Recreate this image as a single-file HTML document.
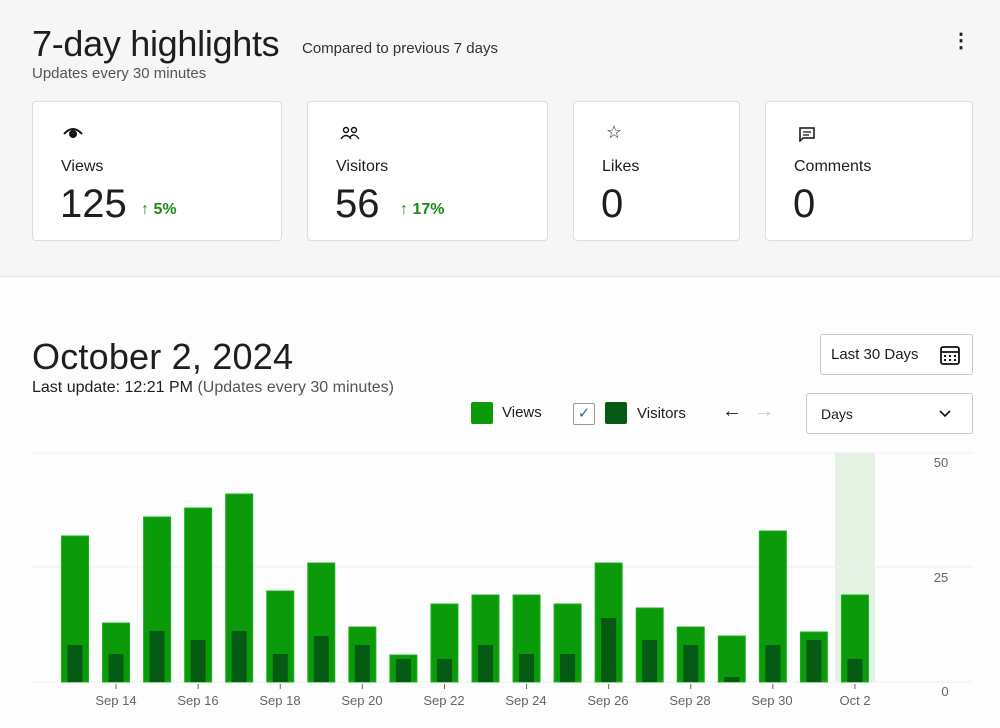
<!DOCTYPE html>
<html><head><meta charset="utf-8"><style>
*{margin:0;padding:0;box-sizing:border-box}
body{width:1000px;height:728px;background:#fdfdfd;font-family:"Liberation Sans",sans-serif;color:#1e1e1e;position:relative;overflow:hidden}
.top{position:absolute;left:0;top:0;width:1000px;height:277px;background:#f6f6f6;border-bottom:1px solid #e4e4e4}
.a{position:absolute;white-space:nowrap}
.card{position:absolute;top:101px;height:140px;background:#fff;border:1px solid #ddd;border-radius:4px}
.lbl{position:absolute;left:28px;top:56px;font-size:16px}
.num{position:absolute;left:27px;top:80px;font-size:40px}
.pct{position:absolute;top:99px;font-size:16px;color:#1a8a1a;font-weight:bold}
.btn{position:absolute;background:#fff;border:1px solid #c8c8c8;border-radius:3px}
</style></head><body>
<div class="top"></div>
<div class="a" style="left:32px;top:23px;font-size:36px;letter-spacing:-0.3px">7-day highlights</div>
<div class="a" style="left:302px;top:40px;font-size:15px;color:#333">Compared to previous 7 days</div>
<div class="a" style="left:32px;top:65px;font-size:15px;color:#555">Updates every 30 minutes</div>
<div class="a" style="left:951px;top:28px;font-size:20px;font-weight:bold">⋮</div>

<div class="card" style="left:32px;width:250px">
<svg class="a" style="left:30px;top:24px" width="20" height="14"><path d="M1 8 Q10 -2 19 8" stroke="#111" stroke-width="2" fill="none"/><circle cx="10" cy="8" r="4" fill="#111"/></svg>
<div class="lbl">Views</div><div class="num">125</div><div class="pct" style="left:108px">↑ 5%</div></div>
<div class="card" style="left:307px;width:241px">
<svg class="a" style="left:32px;top:24px" width="20" height="14"><circle cx="6" cy="4" r="2.5" stroke="#111" fill="none" stroke-width="1.4"/><circle cx="14" cy="4" r="2.5" stroke="#111" fill="none" stroke-width="1.4"/><path d="M1 13 Q6 6 11 13 M10 11 Q14 6 19 13" stroke="#111" fill="none" stroke-width="1.4"/></svg>
<div class="lbl">Visitors</div><div class="num">56</div><div class="pct" style="left:92px">↑ 17%</div></div>
<div class="card" style="left:573px;width:167px">
<div class="a" style="left:32px;top:20px;font-size:18px">☆</div>
<div class="lbl">Likes</div><div class="num">0</div></div>
<div class="card" style="left:765px;width:208px">
<svg class="a" style="left:32px;top:24px" width="18" height="16"><path d="M2 2 H16 V12 H5 L2 15 Z" stroke="#111" fill="none" stroke-width="1.5"/><path d="M5 6 H13 M5 9 H11" stroke="#111" stroke-width="1.3"/></svg>
<div class="lbl">Comments</div><div class="num">0</div></div>

<div class="a" style="left:32px;top:336px;font-size:36px;letter-spacing:0.2px">October 2, 2024</div>
<div class="a" style="left:32px;top:379px;font-size:16px">Last update: 12:21 PM <span style="color:#555">(Updates every 30 minutes)</span></div>
<div class="btn" style="left:820px;top:334px;width:153px;height:41px"><span class="a" style="left:10px;top:11px;font-size:15px">Last 30 Days</span>
<svg class="a" style="left:118px;top:9px" width="22" height="22"><rect x="2" y="3" width="18" height="17" rx="2" stroke="#111" fill="none" stroke-width="1.8"/><path d="M2 8 H20" stroke="#111" stroke-width="1.8"/><g fill="#111"><rect x="5" y="11" width="2" height="2"/><rect x="10" y="11" width="2" height="2"/><rect x="15" y="11" width="2" height="2"/><rect x="5" y="15" width="2" height="2"/><rect x="10" y="15" width="2" height="2"/><rect x="15" y="15" width="2" height="2"/></g></svg></div>
<div class="a" style="left:471px;top:402px;width:22px;height:22px;background:#0a9a0a;border-radius:2px"></div>
<div class="a" style="left:502px;top:404px;font-size:15px">Views</div>
<div class="a" style="left:573px;top:403px;width:22px;height:22px;border:1px solid #999;border-radius:2px;background:#fff;color:#1a6ab0;font-size:15px;text-align:center;line-height:20px">✓</div>
<div class="a" style="left:605px;top:402px;width:22px;height:22px;background:#055a14;border-radius:2px"></div>
<div class="a" style="left:637px;top:405px;font-size:15px">Visitors</div>
<div class="a" style="left:722px;top:400px;font-size:20px">←</div>
<div class="a" style="left:754px;top:400px;font-size:20px;color:#ccc">→</div>
<div class="btn" style="left:806px;top:393px;width:167px;height:41px"><span class="a" style="left:14px;top:12px;font-size:14px">Days</span>
<svg class="a" style="left:132px;top:16px" width="12" height="8"><path d="M1 1 L6 6 L11 1" stroke="#111" stroke-width="1.6" fill="none"/></svg></div>

<svg class="a" style="left:0;top:0" width="1000" height="728">
<rect x="835" y="453" width="40" height="229" fill="#e3f2e3"/>
<g stroke="#f0f0f0"><line x1="32" y1="453" x2="972" y2="453"/><line x1="32" y1="567" x2="972" y2="567"/><line x1="32" y1="682" x2="972" y2="682"/></g>
<g id="b"></g>
<g font-family="Liberation Sans" font-size="13" fill="#666" text-anchor="middle">
<text x="116" y="705">Sep 14</text><text x="198" y="705">Sep 16</text><text x="280" y="705">Sep 18</text><text x="362" y="705">Sep 20</text><text x="444" y="705">Sep 22</text><text x="526" y="705">Sep 24</text><text x="608" y="705">Sep 26</text><text x="690" y="705">Sep 28</text><text x="772" y="705">Sep 30</text><text x="855" y="705">Oct 2</text>
<text x="941" y="467">50</text><text x="941" y="582">25</text><text x="945" y="696">0</text>
</g>
</svg>
<script>
var v=[536,623,517,508,494,591,563,627,655,604,595,595,604,563,608,627,636,531,632,595];
var d=[645,654,631,640,631,654,636,645,659,659,645,654,654,618,640,645,677,645,640,659];
var s='';
for(var i=0;i<20;i++){var c=75+41.05*i;
s+='<rect x="'+(c-13.5)+'" y="'+v[i]+'" width="27" height="'+(682-v[i])+'" fill="#0a9a0a" stroke="#1db01d" stroke-width="1"/>';
s+='<rect x="'+(c-7.5)+'" y="'+d[i]+'" width="15" height="'+(682-d[i])+'" fill="#055a14"/>';
if(i%2==1)s+='<line x1="'+c+'" y1="684" x2="'+c+'" y2="689" stroke="#666"/>';}
document.getElementById('b').innerHTML=s;
</script>
</body></html>
